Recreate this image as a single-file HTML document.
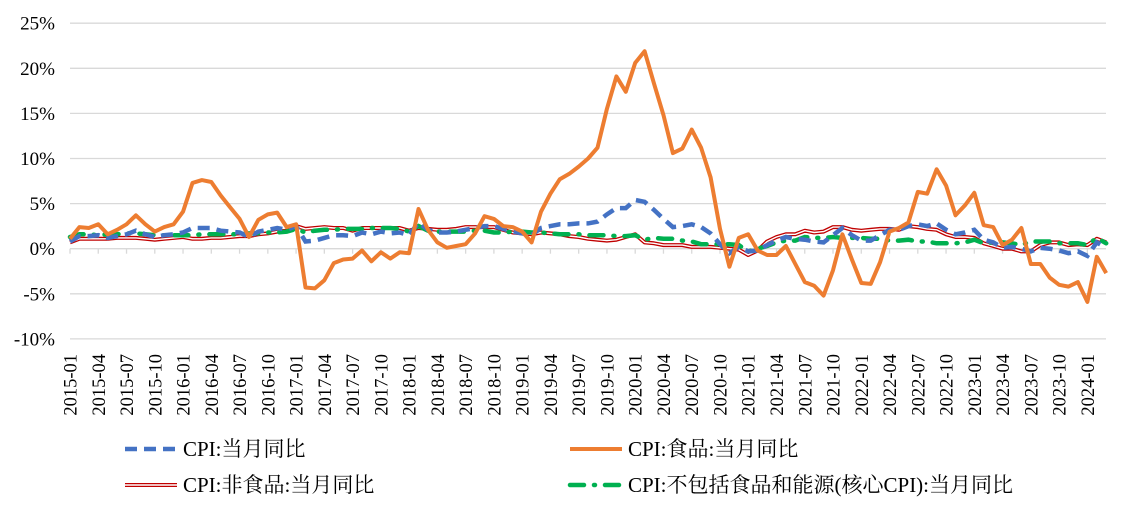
<!DOCTYPE html>
<html><head><meta charset="utf-8"><style>
body{margin:0;background:#fff;}
svg{display:block;font-family:"Liberation Serif","Noto Serif CJK SC",serif;}
</style></head><body>
<svg id="c" width="1129" height="511" xmlns="http://www.w3.org/2000/svg"></svg>
<script>
const cpi=[0.8,1.4,1.4,1.5,1.2,1.4,1.6,2.0,1.6,1.3,1.5,1.6,1.8,2.3,2.3,2.3,2.0,1.9,1.8,1.3,1.9,2.1,2.3,2.1,2.5,0.8,0.9,1.2,1.5,1.5,1.4,1.8,1.6,1.9,1.7,1.8,1.5,2.9,2.1,1.8,1.8,1.9,2.1,2.3,2.5,2.5,2.2,1.9,1.7,1.5,2.3,2.5,2.7,2.7,2.8,2.8,3.0,3.8,4.5,4.5,5.4,5.2,4.3,3.3,2.4,2.5,2.7,2.4,1.7,0.5,-0.5,0.2,-0.3,-0.2,0.4,0.9,1.3,1.1,1.0,0.8,0.7,1.5,2.3,1.5,0.9,0.9,1.5,2.1,2.1,2.5,2.7,2.5,2.8,2.1,1.6,1.8,2.1,1.0,0.7,0.1,0.2,0.0,-0.3,0.1,0.0,-0.2,-0.5,-0.3,-0.8,0.7,0.1];
const food=[1.1,2.4,2.3,2.7,1.6,2.1,2.7,3.7,2.7,1.9,2.4,2.7,4.1,7.3,7.6,7.4,5.9,4.6,3.3,1.3,3.2,3.8,4.0,2.4,2.7,-4.3,-4.4,-3.5,-1.6,-1.2,-1.1,-0.2,-1.4,-0.4,-1.1,-0.4,-0.5,4.4,2.1,0.7,0.1,0.3,0.5,1.7,3.6,3.3,2.5,2.4,1.9,0.7,4.1,6.1,7.7,8.3,9.1,10.0,11.2,15.5,19.1,17.4,20.6,21.9,18.3,14.8,10.6,11.1,13.2,11.2,7.9,2.2,-2.0,1.2,1.6,-0.2,-0.7,-0.7,0.3,-1.7,-3.7,-4.1,-5.2,-2.4,1.6,-1.2,-3.8,-3.9,-1.5,1.9,2.3,2.9,6.3,6.1,8.8,7.0,3.7,4.8,6.2,2.6,2.4,0.4,1.0,2.3,-1.7,-1.7,-3.2,-4.0,-4.2,-3.7,-5.9,-0.9,-2.7];
const nf=[0.7,1.1,1.1,1.1,1.1,1.2,1.2,1.2,1.1,1.0,1.1,1.2,1.3,1.1,1.1,1.2,1.2,1.3,1.4,1.4,1.6,1.7,1.9,2.0,2.5,2.2,2.3,2.4,2.3,2.3,2.0,2.3,2.3,2.3,2.3,2.3,2.0,2.3,2.2,2.1,2.1,2.2,2.4,2.4,2.4,2.4,2.1,1.8,1.7,1.6,1.8,1.7,1.6,1.4,1.3,1.1,1.0,0.9,1.0,1.3,1.6,0.7,0.6,0.4,0.4,0.4,0.2,0.2,0.2,0.1,0.0,-0.1,-0.7,-0.2,0.8,1.3,1.6,1.6,2.0,1.8,1.9,2.4,2.4,2.1,2.0,2.1,2.2,2.2,2.1,2.5,2.4,2.2,2.1,1.6,1.3,1.3,1.2,0.6,0.3,0.0,0.0,-0.3,-0.3,0.4,0.7,0.7,0.4,0.5,0.4,1.1,0.7];
const core=[1.3,1.6,1.6,1.5,1.6,1.6,1.7,1.7,1.6,1.5,1.5,1.5,1.5,1.5,1.6,1.6,1.6,1.6,1.6,1.7,1.7,1.8,1.8,1.9,2.2,1.8,2.0,2.1,2.1,2.2,2.2,2.2,2.3,2.3,2.3,2.2,1.9,2.5,2.0,1.9,1.9,1.9,1.9,2.0,2.0,1.8,1.8,1.9,1.9,1.8,1.8,1.7,1.6,1.6,1.6,1.5,1.5,1.5,1.4,1.4,1.5,1.0,1.2,1.1,1.1,0.9,0.8,0.5,0.5,0.5,0.5,0.4,-0.3,0.0,0.3,0.7,0.9,0.9,1.3,1.2,1.2,1.3,1.2,1.2,1.2,1.1,1.1,0.9,0.9,1.0,0.8,0.8,0.6,0.6,0.6,0.7,1.0,0.6,0.7,0.7,0.6,0.4,0.8,0.8,0.8,0.6,0.6,0.6,0.4,1.2,0.6];
const X0=70,DX=9.42,Y0=248.7,PY=9.02;
const X=i=>X0+i*DX, Y=v=>Y0-v*PY;
let s='';
for(let v=-10;v<=25;v+=5){const y=Y(v);s+=`<line x1="70" x2="1106" y1="${y}" y2="${y}" stroke="#d9d9d9" stroke-width="1.3"/>`;
s+=`<text x="55" y="${y+6.5}" font-size="19" text-anchor="end">${v}%</text>`;}
for(let i=0;i<111;i+=3){const x=X(i);s+=`<line x1="${x}" x2="${x}" y1="${Y0}" y2="${Y0+5}" stroke="#d9d9d9" stroke-width="1.3"/>`;
const yr=2015+Math.floor(i/12),m=i%12+1;
s+=`<text transform="translate(${x+6.5},354) rotate(-90)" font-size="18.5" text-anchor="end">${yr}-${String(m).padStart(2,'0')}</text>`;}
const pts=a=>a.map((v,i)=>X(i).toFixed(1)+','+Y(v).toFixed(1)).join(' ');
s+=`<polyline points="${pts(nf)}" fill="none" stroke="#c00000" stroke-width="4" stroke-linejoin="round"/>`;
s+=`<polyline points="${pts(nf)}" fill="none" stroke="#fff" stroke-width="1.4" stroke-linejoin="round"/>`;
s+=`<polyline points="${pts(core)}" fill="none" stroke="#00b050" stroke-width="4.5" stroke-dasharray="14,10,1,10" stroke-linecap="round"/>`;
s+=`<polyline points="${pts(cpi)}" fill="none" stroke="#4472c4" stroke-width="4.5" stroke-dasharray="12,7"/>`;
s+=`<polyline points="${pts(food)}" fill="none" stroke="#ed7d31" stroke-width="4" stroke-linejoin="round"/>`;
s+=`<line x1="125" x2="177" y1="449" y2="449" stroke="#4472c4" stroke-width="4.5" stroke-dasharray="12,7"/><text x="183" y="456" font-size="21">CPI:当月同比</text>`;
s+=`<line x1="570" x2="622" y1="449" y2="449" stroke="#ed7d31" stroke-width="4"/><text x="628" y="456" font-size="21">CPI:食品:当月同比</text>`;
s+=`<line x1="125" x2="177" y1="485" y2="485" stroke="#c00000" stroke-width="4"/><line x1="125" x2="177" y1="485" y2="485" stroke="#fff" stroke-width="1.4"/><text x="183" y="492" font-size="21">CPI:非食品:当月同比</text>`;
s+=`<line x1="570" x2="622" y1="485" y2="485" stroke="#00b050" stroke-width="4.5" stroke-dasharray="14,10,1,10" stroke-linecap="round"/><text x="628" y="492" font-size="21">CPI:不包括食品和能源(核心CPI):当月同比</text>`;
document.getElementById('c').innerHTML=s;
</script>
</body></html>
